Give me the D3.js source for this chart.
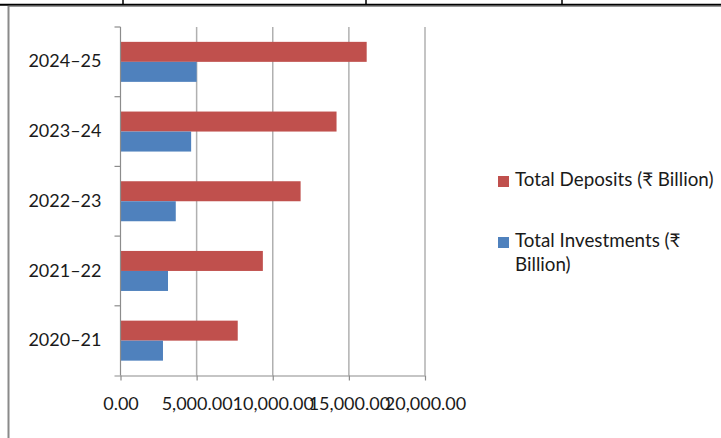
<!DOCTYPE html>
<html>
<head>
<meta charset="utf-8">
<script src="https://cdn.jsdelivr.net/npm/d3@7"></script>
<style>
  html, body { margin: 0; padding: 0; background: #fff; }
  svg { display: block; }
  text { font-family: Lato, "Open Sans", sans-serif; fill: #1a1a1a; }
</style>
</head>
<body>
<svg id="chart" width="721" height="438"></svg>
<script>
// Fiscal years, bottom to top
const years = ["2020–21", "2021–22", "2022–23", "2023–24", "2024–25"];
// ₹ Billion
const deposits = [7700, 9350, 11830, 14190, 16170];
const investments = [2790, 3120, 3630, 4640, 5000];
const seriesNames = ["Total Deposits (₹ Billion)", "Total Investments (₹ Billion)"];
const seriesColors = ["#C0504D", "#4F81BD"];
const xTicks = [0, 5000, 10000, 15000, 20000];

const svg = d3.select("#chart");
const FONT = 'Lato, "Open Sans", sans-serif';

// Page frame: heavy top rule with column separators, grey chart border
svg.append("line").attr("x1", 0).attr("x2", 721).attr("y1", 4.7).attr("y2", 4.7)
  .attr("stroke", "#000").attr("stroke-width", 2);
[123, 366, 562].forEach(x => {
  svg.append("line").attr("x1", x).attr("x2", x).attr("y1", 0).attr("y2", 4)
    .attr("stroke", "#000").attr("stroke-width", 1.5);
});
svg.append("line").attr("x1", 8.5).attr("x2", 721).attr("y1", 6.3).attr("y2", 6.3)
  .attr("stroke", "#999").attr("stroke-width", 1.3);
svg.append("line").attr("x1", 8.5).attr("x2", 8.5).attr("y1", 6).attr("y2", 438)
  .attr("stroke", "#8a8a8a").attr("stroke-width", 2);

const plot = { left: 120.5, right: 425, top: 27, bottom: 375.5 };

const x = d3.scaleLinear().domain([0, 20000]).range([plot.left, plot.right]);
const y = d3.scaleBand().domain(years.slice().reverse())
  .range([plot.top, plot.bottom]).paddingInner(0.426).paddingOuter(0.213);
const sub = d3.scaleBand().domain([0, 1]).range([0, y.bandwidth()]);

// Vertical gridlines
svg.append("g").selectAll("line").data(xTicks.slice(1)).join("line")
  .attr("x1", d => x(d)).attr("x2", d => x(d))
  .attr("y1", plot.top).attr("y2", plot.bottom)
  .attr("stroke", "#b0b0b0").attr("stroke-width", 1.5);

// Bars
const rows = years.map((yr, i) => ({ yr, vals: [deposits[i], investments[i]] }));
const groups = svg.append("g").selectAll("g").data(rows).join("g")
  .attr("transform", d => `translate(0,${y(d.yr)})`);
groups.selectAll("rect").data(d => d.vals.map((v, k) => ({ v, k }))).join("rect")
  .attr("x", x(0))
  .attr("y", d => sub(d.k))
  .attr("width", d => x(d.v) - x(0))
  .attr("height", sub.bandwidth())
  .attr("fill", d => seriesColors[d.k]);

// Category axis with ticks at band boundaries
const step = y.step();
const yAxis = svg.append("g");
yAxis.append("line").attr("x1", plot.left).attr("x2", plot.left)
  .attr("y1", plot.top).attr("y2", plot.bottom)
  .attr("stroke", "#8c8c8c").attr("stroke-width", 1.2);
yAxis.selectAll("line.tk").data(d3.range(years.length)).join("line").attr("class", "tk")
  .attr("x1", plot.left - 6).attr("x2", plot.left)
  .attr("y1", i => plot.top + i * step).attr("y2", i => plot.top + i * step)
  .attr("stroke", "#8c8c8c").attr("stroke-width", 1.2);
yAxis.selectAll("text").data(years).join("text")
  .attr("x", 101.5)
  .attr("y", d => y(d) + y.bandwidth() / 2 + 1)
  .attr("text-anchor", "end").attr("dominant-baseline", "middle")
  .attr("font-size", 18)
  .text(d => d);

// Value axis
const xAxis = svg.append("g").attr("transform", `translate(0,${plot.bottom})`)
  .call(d3.axisBottom(x).tickValues(xTicks).tickSize(5).tickPadding(17)
    .tickFormat(d3.format(",.2f")));
xAxis.select(".domain").attr("stroke", "#8c8c8c").attr("stroke-width", 1.2)
  .attr("d", `M${plot.left - 6},0.5H${plot.right}`);
xAxis.selectAll(".tick line").attr("stroke", "#8c8c8c").attr("stroke-width", 1.2);
xAxis.selectAll(".tick text").attr("font-size", 18).attr("fill", "#1a1a1a")
  .style("font-family", FONT);

// Legend
const legend = svg.append("g");
const legendItems = [
  { lines: ["Total Deposits (₹ Billion)"], y: 181 },
  { lines: ["Total Investments (₹", "Billion)"], y: 242 }
];
legendItems.forEach((it, k) => {
  legend.append("rect").attr("x", 498).attr("y", it.y - 5).attr("width", 11).attr("height", 11)
    .attr("fill", seriesColors[k]);
  const t = legend.append("text").attr("x", 515).attr("y", it.y)
    .attr("dominant-baseline", "middle").attr("font-size", 18.8);
  it.lines.forEach((ln, j) => {
    t.append("tspan").attr("x", 515).attr("dy", j === 0 ? 0 : 24).text(ln);
  });
});
</script>
</body>
</html>
